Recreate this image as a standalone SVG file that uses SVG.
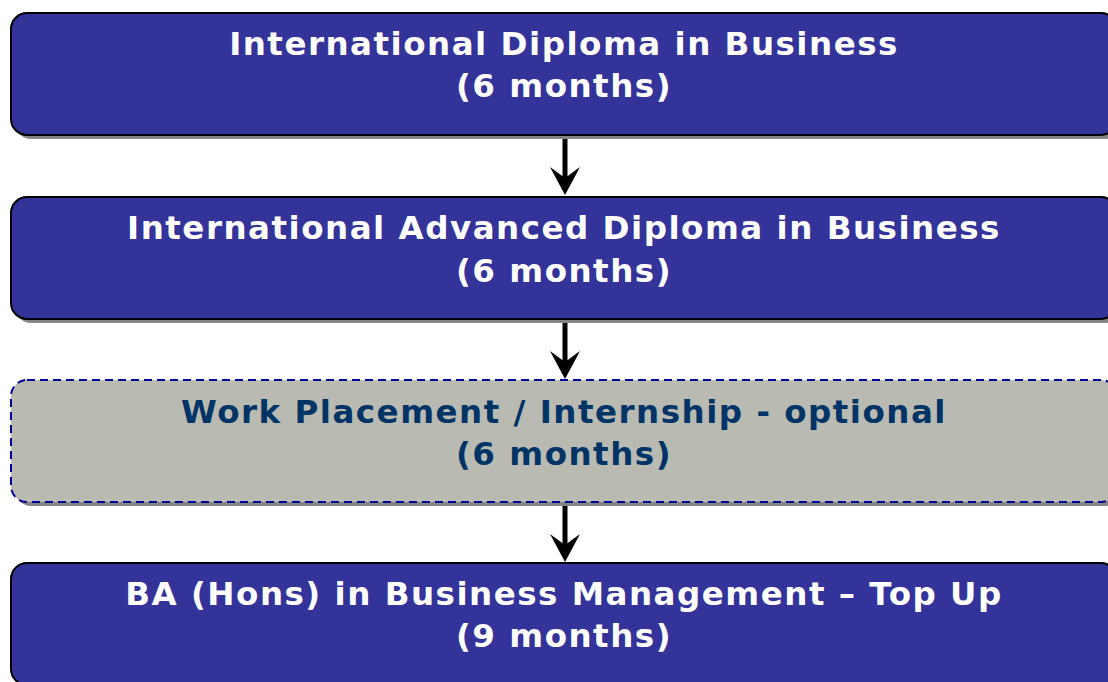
<svg xmlns="http://www.w3.org/2000/svg" width="1108" height="682" viewBox="0 0 1108 682">
<style>
.shadow{fill:#858585;}
.blue{fill:#333399;stroke:#000;stroke-width:2;}
.grey{fill:#B9BAB1;stroke:#000099;stroke-width:2;stroke-dasharray:8 5;}
.t{font-family:"DejaVu Sans",Verdana,sans-serif;font-weight:bold;font-size:32.5px;letter-spacing:1.5px;text-anchor:middle;}
.w{fill:#fff;}
.d{fill:#003366;}
.conn{stroke:#000;stroke-width:5;fill:none;}
.head{fill:#000;}
</style>
<rect width="1108" height="682" fill="#fff"/>
<g id="node1">
<rect class="shadow" x="15" y="17" width="1106" height="122" rx="16"/>
<rect class="blue" x="11" y="13" width="1106" height="122" rx="16"/>
<text class="t w" x="564" y="55">International Diploma in Business</text>
<text class="t w" x="564" y="97">(6 months)</text>
</g>
<g id="node2">
<rect class="shadow" x="15" y="201" width="1106" height="122" rx="16"/>
<rect class="blue" x="11" y="197" width="1106" height="122" rx="16"/>
<text class="t w" x="564" y="239">International Advanced Diploma in Business</text>
<text class="t w" x="564" y="282">(6 months)</text>
</g>
<g id="node3">
<rect class="shadow" x="15" y="384" width="1106" height="122" rx="16"/>
<rect class="grey" x="11" y="380" width="1106" height="122" rx="16"/>
<text class="t d" x="564" y="423">Work Placement / Internship - optional</text>
<text class="t d" x="564" y="465">(6 months)</text>
</g>
<g id="node4">
<rect class="shadow" x="15" y="567" width="1106" height="122" rx="16"/>
<rect class="blue" x="11" y="563" width="1106" height="122" rx="16"/>
<text class="t w" x="564" y="605">BA (Hons) in Business Management – Top Up</text>
<text class="t w" x="564" y="647">(9 months)</text>
</g>
<g id="connectors">
<line class="conn" x1="565" y1="139" x2="565" y2="180"/>
<path class="head" d="M565 195 L550 167 L565 178 L580 167 Z"/>
<line class="conn" x1="565" y1="323" x2="565" y2="364"/>
<path class="head" d="M565 379 L550 351 L565 362 L580 351 Z"/>
<line class="conn" x1="565" y1="506" x2="565" y2="547"/>
<path class="head" d="M565 562 L550 534 L565 545 L580 534 Z"/>
</g>
</svg>
